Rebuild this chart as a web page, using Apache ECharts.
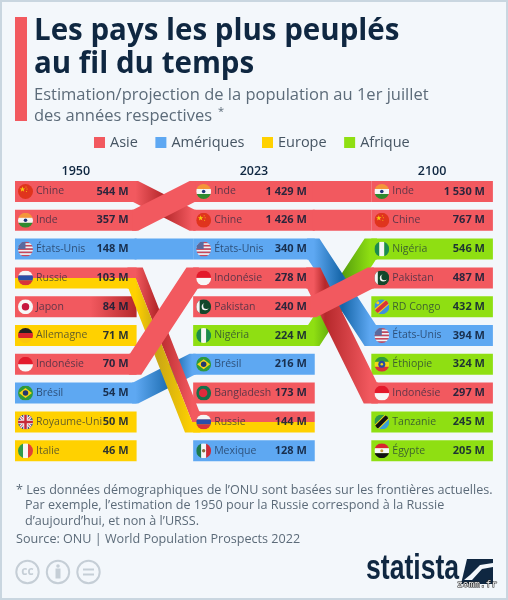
<!DOCTYPE html>
<html>
<head>
<meta charset="utf-8">
<script src="https://cdn.jsdelivr.net/npm/echarts@6/dist/echarts.min.js"></script>
<style>
  html, body { margin: 0; padding: 0; background: #f3f7fb; }
  #chart { width: 508px; height: 600px; }
</style>
</head>
<body>
<div id="chart"></div>
<script>
const years = ['1950', '2023', '2100']
const regionNames = ['Asie', 'Amériques', 'Europe', 'Afrique']

const names1950 = ['Chine', 'Inde', 'États-Unis', 'Russie', 'Japon', 'Allemagne', 'Indonésie', 'Brésil', 'Royaume-Uni', 'Italie']
const values1950 = ['544 M', '357 M', '148 M', '103 M', '84 M', '71 M', '70 M', '54 M', '50 M', '46 M']
const names2023 = ['Inde', 'Chine', 'États-Unis', 'Indonésie', 'Pakistan', 'Nigéria', 'Brésil', 'Bangladesh', 'Russie', 'Mexique']
const values2023 = ['1 429 M', '1 426 M', '340 M', '278 M', '240 M', '224 M', '216 M', '173 M', '144 M', '128 M']
const names2100 = ['Inde', 'Chine', 'Nigéria', 'Pakistan', 'RD Congo', 'États-Unis', 'Éthiopie', 'Indonésie', 'Tanzanie', 'Égypte']
const values2100 = ['1 530 M', '767 M', '546 M', '487 M', '432 M', '394 M', '324 M', '297 M', '245 M', '205 M']

const asia = ['Chine', 'Inde', 'Japon', 'Indonésie', 'Pakistan', 'Bangladesh']
const americas = ['États-Unis', 'Brésil', 'Mexique']
const europe = ['Allemagne', 'Royaume-Uni', 'Italie']
const africa = ['Nigéria', 'RD Congo', 'Éthiopie', 'Tanzanie', 'Égypte']
const membersByRegion = { Asie: asia, 'Amériques': americas, Europe: europe, Afrique: africa }

// order of drawing between two years, last one is on top
const flowOrder = [
  ['Chine', 'États-Unis', 'Brésil', 'Russie', 'Indonésie', 'Inde'],
  ['Inde', 'Chine', 'Nigéria', 'États-Unis', 'Indonésie', 'Pakistan'],
]

const colors = { Asie: '#f2595f', 'Amériques': '#5ea8f2', Europe: '#ffd100', Afrique: '#8fdf12' }
const darkColors = { Asie: '#b5282b', 'Amériques': '#1565a8', Europe: '#c9a615', Afrique: '#4c940c' }

const columns = [names1950, names2023, names2100]
const valueColumns = [values1950, values2023, values2100]
const BAR_W = 121.6
const BAR_H = 21
const FONT = '"Open Sans", sans-serif'

function wrapFlag(inner) {
  const svg = '<svg xmlns="http://www.w3.org/2000/svg" width="60" height="60" viewBox="0 0 30 30">' +
    '<clipPath id="c"><circle cx="15" cy="15" r="15"/></clipPath><g clip-path="url(#c)">' + inner + '</g></svg>'
  return 'data:image/svg+xml;charset=utf-8,' + encodeURIComponent(svg)
}
function hStripes(list) {
  const h = 30 / list.length
  return list.map((c, i) => `<rect x="0" y="${i * h}" width="30" height="${h + 0.3}" fill="${c}"/>`).join('')
}
function vStripes(list) {
  const w = 30 / list.length
  return list.map((c, i) => `<rect x="${i * w}" y="0" width="${w + 0.3}" height="30" fill="${c}"/>`).join('')
}
const flags = {
  'Chine': wrapFlag('<rect width="30" height="30" fill="#e0341d"/><polygon points="9,5 10.5,9 14.5,9 11.2,11.5 12.5,15.5 9,13 5.5,15.5 6.8,11.5 3.5,9 7.5,9" fill="#f7c90f"/><circle cx="16" cy="6" r="1" fill="#f7c90f"/><circle cx="18" cy="10" r="1" fill="#f7c90f"/><circle cx="17" cy="15" r="1" fill="#f7c90f"/>'),
  'Inde': wrapFlag(hStripes(['#f4953a', '#f5f5f5', '#2f8a2f']) + '<circle cx="15" cy="15" r="3.6" fill="#1c3578"/>'),
  'États-Unis': wrapFlag(hStripes(['#c8475a', '#f2f2f2', '#c8475a', '#f2f2f2', '#c8475a', '#f2f2f2', '#c8475a', '#f2f2f2', '#c8475a']) + '<rect width="15" height="15" fill="#5a6a9e"/>'),
  'Russie': wrapFlag(hStripes(['#f5f5f5', '#2a4fa8', '#d8333a'])),
  'Japon': wrapFlag('<rect width="30" height="30" fill="#f7f7f7"/><circle cx="15" cy="15" r="7.5" fill="#c7173f"/>'),
  'Allemagne': wrapFlag(hStripes(['#222222', '#d8252c', '#fbc70c'])),
  'Indonésie': wrapFlag(hStripes(['#e3192b', '#f7f7f7'])),
  'Brésil': wrapFlag('<rect width="30" height="30" fill="#2d9a3c"/><polygon points="15,5 28,15 15,25 2,15" fill="#f7d416"/><circle cx="15" cy="15" r="5.5" fill="#24386f"/>'),
  'Royaume-Uni': wrapFlag('<rect width="30" height="30" fill="#2b3f78"/><path d="M0 0L30 30M30 0L0 30" stroke="#f2f2f2" stroke-width="6"/><path d="M0 0L30 30M30 0L0 30" stroke="#c72a3a" stroke-width="2"/><path d="M15 0V30M0 15H30" stroke="#f2f2f2" stroke-width="9"/><path d="M15 0V30M0 15H30" stroke="#c72a3a" stroke-width="5"/>'),
  'Italie': wrapFlag(vStripes(['#2f9a4a', '#f5f5f5', '#e04038'])),
  'Pakistan': wrapFlag('<rect width="30" height="30" fill="#13472b"/><rect width="7" height="30" fill="#f5f5f5"/><circle cx="18" cy="15" r="7" fill="#f5f5f5"/><circle cx="20.5" cy="13.2" r="6.4" fill="#13472b"/>'),
  'Nigéria': wrapFlag(vStripes(['#1c8a4f', '#f5f5f5', '#1c8a4f'])),
  'Bangladesh': wrapFlag('<rect width="30" height="30" fill="#14704a"/><circle cx="14" cy="15" r="8.5" fill="#dd2a3c"/>'),
  'Mexique': wrapFlag(vStripes(['#1c7a4a', '#f5f5f5', '#cf2a36']) + '<circle cx="15" cy="15" r="3.4" fill="#8a6a3a"/>'),
  'RD Congo': wrapFlag('<rect width="30" height="30" fill="#3f8fe0"/><path d="M-2 30L30 2" stroke="#f7d416" stroke-width="12"/><path d="M-2 30L30 2" stroke="#d8333a" stroke-width="8"/><circle cx="7" cy="7" r="3" fill="#f7d416"/>'),
  'Éthiopie': wrapFlag(hStripes(['#2f9a3c', '#f0d816', '#d8333a']) + '<circle cx="15" cy="15" r="7" fill="#2a4aa0"/><circle cx="15" cy="15" r="2.6" fill="#f0d816"/>'),
  'Tanzanie': wrapFlag('<polygon points="0,0 30,0 0,30" fill="#2f9a4a"/><polygon points="30,0 30,30 0,30" fill="#3aa0d8"/><path d="M-2 32L32 -2" stroke="#f0d816" stroke-width="12"/><path d="M-2 32L32 -2" stroke="#111111" stroke-width="8"/>'),
  'Égypte': wrapFlag(hStripes(['#d9252f', '#f7f7f7', '#111111']) + '<circle cx="15" cy="15" r="3" fill="#c9a03a"/>'),
}

function cellRows() {
  const rows = []
  columns.forEach((list, col) => {
    list.forEach((name, rank) => rows.push({ col, rank, name, value: valueColumns[col][rank] }))
  })
  return rows
}

// Russie est à cheval sur Asie et Europe : bande du haut / bande du bas
function barParts(name) {
  if (name === 'Russie') return [{ region: 'Asie', a: -1, b: 0 }, { region: 'Europe', a: 0, b: 1 }]
  const region = regionNames.find(r => membersByRegion[r].includes(name))
  return [{ region, a: -1, b: 1 }]
}

function crossing(from0, to0, from1, to1) {
  const d = (to0 - from0) - (to1 - from1)
  if (d === 0) return null
  const t = (from1 - from0) / d
  return t > 0 && t < 1 ? t : null
}

function buildFlows() {
  const flows = []
  flowOrder.forEach((order, col) => {
    const ranks = order.map(name => [columns[col].indexOf(name), columns[col + 1].indexOf(name)])
    order.forEach((name, i) => {
      const hits = []
      for (let j = i + 1; j < order.length; j++) {
        const t = crossing(ranks[i][0], ranks[i][1], ranks[j][0], ranks[j][1])
        if (t !== null) hits.push(t)
      }
      const shade = hits.length ? hits.reduce((s, t) => s + t, 0) / hits.length : null
      barParts(name).forEach(p => {
        flows.push({ col, from: ranks[i][0], to: ranks[i][1], shade, region: p.region, a: p.a, b: p.b })
      })
    })
  })
  return flows
}

const rows = cellRows()
const flowRows = buildFlows()

function shadedFill(base, dark, stops) {
  const colorStops = []
  stops.forEach(s => colorStops.push({ offset: Math.min(1, Math.max(0, s[0])), color: s[1] ? dark : base }))
  return { type: 'linear', x: 0, y: 0, x2: 1, y2: 0, colorStops }
}

function renderFlow(params, api) {
  const f = flowRows[params.dataIndex]
  const start = api.coord([f.col, f.from])
  const end = api.coord([f.col + 1, f.to])
  const x0 = start[0] + BAR_W / 2 - 1
  const x1 = end[0] - BAR_W / 2 - 1
  const y0 = start[1]
  const y1 = end[1]
  const dy = y1 - y0
  const off = (BAR_H / 2) * Math.tan(Math.atan(Math.abs(dy) / (x1 - x0)) / 2)
  const s = Math.sign(dy)
  const xs = x0 - off - 1
  const xe = x1 + off + 1
  const edge = fr => -fr * s * off
  const h = BAR_H / 2
  const pts = [
    [xs, y0 + f.a * h], [x0 + edge(f.a), y0 + f.a * h], [x1 + edge(f.a), y1 + f.a * h], [xe, y1 + f.a * h],
    [xe, y1 + f.b * h], [x1 + edge(f.b), y1 + f.b * h], [x0 + edge(f.b), y0 + f.b * h], [xs, y0 + f.b * h],
  ]
  let fill = colors[f.region]
  if (f.shade !== null) {
    const pos = x => (x - xs) / (xe - xs)
    const mid = x0 + f.shade * (x1 - x0)
    fill = shadedFill(colors[f.region], darkColors[f.region], [
      [0, false], [pos(x0), false], [pos(mid), true], [pos(x1), false], [1, false],
    ])
  }
  return { type: 'polygon', shape: { points: pts }, style: { fill } }
}

function barRender(region) {
  const list = barData(region)
  return function (params, api) {
    const d = list[params.dataIndex]
    const c = api.coord([d.col, d.rank])
    const y = c[1] + d.a * BAR_H / 2
    let fill = colors[region]
    if (d.name === 'Japon') {
      fill = shadedFill(colors[region], darkColors[region], [[0, false], [0.62, false], [1, true]])
    }
    return {
      type: 'rect',
      shape: { x: c[0] - BAR_W / 2, y, width: BAR_W, height: (d.b - d.a) * BAR_H / 2 },
      style: { fill },
    }
  }
}

function barData(region) {
  const out = []
  rows.forEach(r => {
    barParts(r.name).forEach(p => {
      if (p.region === region) out.push({ col: r.col, rank: r.rank, name: r.name, a: p.a, b: p.b })
    })
  })
  return out
}

function renderLabel(params, api) {
  const r = rows[params.dataIndex]
  const c = api.coord([r.col, r.rank])
  const left = c[0] - BAR_W / 2
  const right = c[0] + BAR_W / 2
  return {
    type: 'group',
    children: [
      { type: 'image', style: { image: flags[r.name], x: left + 3, y: c[1] - 7.5, width: 15, height: 15 } },
      {
        type: 'text',
        style: { x: left + 21, y: c[1], text: r.name, fill: 'rgba(20,35,60,0.68)', font: '10.5px ' + FONT, align: 'left', verticalAlign: 'middle' },
      },
      {
        type: 'text',
        style: { x: right - 8, y: c[1], text: r.value, fill: 'rgba(15,30,55,0.88)', font: 'bold 11px ' + FONT, align: 'right', verticalAlign: 'middle' },
      },
    ],
  }
}

const regionSeries = regionNames.map(region => ({
  name: region,
  type: 'custom',
  z: 2,
  silent: true,
  itemStyle: { color: colors[region] },
  renderItem: barRender(region),
  data: barData(region).map(d => [d.col, d.rank]),
}))

const textGrey = '#5c6b79'
const navy = '#0f2741'
const logoGrey = '#c5ced6'

const myChart = echarts.init(document.getElementById('chart'), null, { renderer: 'canvas' })
myChart.setOption({
  animation: false,
  backgroundColor: '#f3f7fb',
  textStyle: { fontFamily: FONT },
  title: [
    {
      text: 'Les pays les plus peuplés\nau fil du temps',
      left: 34, top: 15, padding: 0,
      textStyle: { fontFamily: FONT, fontSize: 29.5, fontWeight: 'bold', color: navy, lineHeight: 33 },
    },
    {
      text: 'Estimation/projection de la population au 1er juillet\ndes années respectives',
      left: 34, top: 85, padding: 0,
      textStyle: { fontFamily: FONT, fontSize: 16.5, fontWeight: 'normal', color: textGrey, lineHeight: 21 },
    },
    {
      text: '* Les données démographiques de l’ONU sont basées sur les frontières actuelles.',
      left: 16, top: 484, padding: 0,
      textStyle: { fontFamily: FONT, fontSize: 12.6, fontWeight: 'normal', color: textGrey },
    },
    {
      text: 'Par exemple, l’estimation de 1950 pour la Russie correspond à la Russie\nd’aujourd’hui, et non à l’URSS.',
      left: 25, top: 498, padding: 0,
      textStyle: { fontFamily: FONT, fontSize: 12.6, fontWeight: 'normal', color: textGrey, lineHeight: 15.5 },
    },
    {
      text: 'Source: ONU | World Population Prospects 2022',
      left: 16, top: 533, padding: 0,
      textStyle: { fontFamily: FONT, fontSize: 12.6, fontWeight: 'normal', color: textGrey },
    },
  ],
  legend: {
    data: regionNames,
    left: 89, top: 130,
    icon: 'rect',
    itemWidth: 11, itemHeight: 11, itemGap: 17.5,
    selectedMode: false,
    textStyle: { fontFamily: FONT, fontSize: 14.5, color: '#465563' },
  },
  grid: { left: 75.8, right: 75.9, top: 191.5, bottom: 149.3 },
  xAxis: {
    type: 'value', min: 0, max: 2, interval: 1, position: 'top',
    axisLine: { show: false }, axisTick: { show: false }, splitLine: { show: false },
    axisLabel: {
      margin: 14, fontFamily: FONT, fontSize: 12.5, fontWeight: 600, color: navy,
      formatter: v => years[v],
    },
  },
  yAxis: { type: 'value', min: 0, max: 9, inverse: true, show: false },
  series: [
    ...regionSeries,
    {
      name: 'flows', type: 'custom', z: 3, silent: true,
      renderItem: renderFlow,
      data: flowRows.map(f => [f.col, f.from]),
    },
    {
      name: 'labels', type: 'custom', z: 4, silent: true,
      renderItem: renderLabel,
      data: rows.map(r => [r.col, r.rank]),
    },
  ],
  graphic: [
    { type: 'rect', silent: true, shape: { x: 0, y: 0, width: 508, height: 600 }, style: { fill: 'none', stroke: '#c9d6e0', lineWidth: 4 } },
    { type: 'rect', silent: true, shape: { x: 15, y: 17, width: 12, height: 104 }, style: { fill: colors.Asie } },
    { type: 'text', silent: true, style: { x: 218, y: 112, text: '*', fill: textGrey, font: '11px ' + FONT, align: 'left', verticalAlign: 'middle' } },
    // cc icons
    { type: 'circle', silent: true, shape: { cx: 27.5, cy: 572, r: 11.2 }, style: { fill: 'none', stroke: logoGrey, lineWidth: 2 } },
    { type: 'text', silent: true, style: { x: 27.5, y: 572, text: 'cc', fill: logoGrey, font: 'bold 12px ' + FONT, align: 'center', verticalAlign: 'middle' } },
    { type: 'circle', silent: true, shape: { cx: 58, cy: 572, r: 11.2 }, style: { fill: 'none', stroke: logoGrey, lineWidth: 2 } },
    { type: 'circle', silent: true, shape: { cx: 58, cy: 566, r: 1.8 }, style: { fill: logoGrey } },
    { type: 'rect', silent: true, shape: { x: 55.5, y: 568.5, width: 5, height: 10 }, style: { fill: logoGrey } },
    { type: 'circle', silent: true, shape: { cx: 88.5, cy: 572, r: 11.2 }, style: { fill: 'none', stroke: logoGrey, lineWidth: 2 } },
    { type: 'rect', silent: true, shape: { x: 83, y: 568.5, width: 11, height: 2 }, style: { fill: logoGrey } },
    { type: 'rect', silent: true, shape: { x: 83, y: 573.5, width: 11, height: 2 }, style: { fill: logoGrey } },
    // logo
    { type: 'text', silent: true, x: 366, y: 587, scaleX: 0.76, style: { x: 0, y: 0, text: 'statista', fill: navy, font: 'bold 35px "Liberation Sans Narrow", "Liberation Sans", sans-serif', align: 'left', verticalAlign: 'bottom' } },
    { type: 'polygon', silent: true, shape: { points: [[467, 559], [493, 559], [493, 584], [461, 584]] }, style: { fill: navy } },
    { type: 'polygon', silent: true, shape: { points: [[464, 580], [472, 580], [482, 569], [493, 567], [493, 563], [480, 565], [470, 575]] }, style: { fill: '#f3f7fb' } },
    { type: 'text', silent: true, style: { x: 457, y: 585, text: 'zomm.fr', fill: '#f5f5f5', stroke: '#222222', lineWidth: 1, font: '9.5px "DejaVu Sans Mono", monospace', align: 'left', verticalAlign: 'middle' } },
  ],
})
</script>
</body>
</html>
